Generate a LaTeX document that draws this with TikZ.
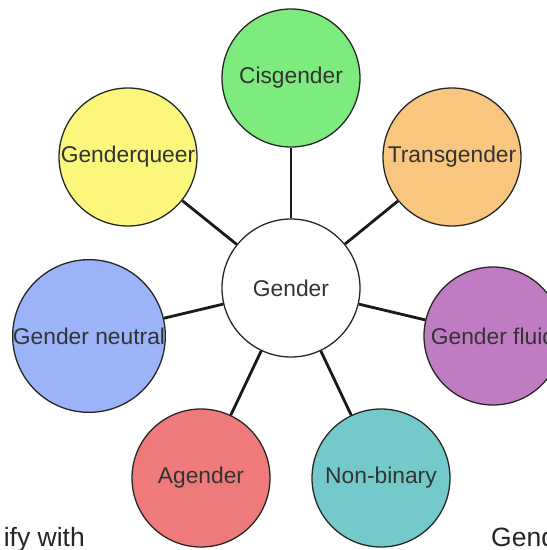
\documentclass[tikz,border=0pt]{standalone}
\usepackage{fontspec}
\setmainfont{Liberation Sans}
\usetikzlibrary{positioning}

\definecolor{cisgreen}{HTML}{7EEB7E}
\definecolor{transorange}{HTML}{F8C67E}
\definecolor{queeryellow}{HTML}{FBF67C}
\definecolor{neutralblue}{HTML}{9BB3F8}
\definecolor{fluidpurple}{HTML}{BF7CC2}
\definecolor{nonbinteal}{HTML}{74CACA}
\definecolor{agenderred}{HTML}{EE7A7A}

\tikzset{
    idcircle/.style={circle, draw=black!85, line width=1.3pt, minimum size=138pt, inner sep=0pt,
        text=black!80, font=\fontsize{22.8}{27}\selectfont},
    spoke/.style={line width=2.8pt, black!90}
}

\begin{document}
\begin{tikzpicture}[x=1pt, y=-1pt]
        \useasboundingbox (0,0) rectangle (547,550);
        \clip (0,0) rectangle (547,550);

        \node[idcircle, fill=white] (gender) at (291,288) {Gender};

        \node[idcircle, fill=cisgreen] (cis) at (291,78) {Cisgender};
        \node[idcircle, fill=transorange] (trans) at (452,157) {Transgender};
        \node[idcircle, fill=queeryellow] (queer) at (128,157) {Genderqueer};
        \node[idcircle, fill=neutralblue] (neutral) at (89,336) {Gender neutral};
        \node[idcircle, fill=fluidpurple] (fluid) at (493,336) {Gender fluid};
        \node[idcircle, fill=agenderred] (agender) at (201,478) {Agender};
        \node[idcircle, fill=nonbinteal] (nonbin) at (381,478) {Non-binary};

        \foreach \other in {cis, trans, queer, neutral, fluid, agender, nonbin}
            \draw[spoke] (gender) -- (\other);

        \node[anchor=base east, inner sep=0pt, text=black!85, font=\fontsize{26.5}{30}\selectfont] (leftword) at (85,546) {ify with};
        \node[anchor=base west, inner sep=0pt, text=black!85, font=\fontsize{26.5}{30}\selectfont] (rightword) at (491,546) {Gend};
    \end{tikzpicture}
\end{document}
